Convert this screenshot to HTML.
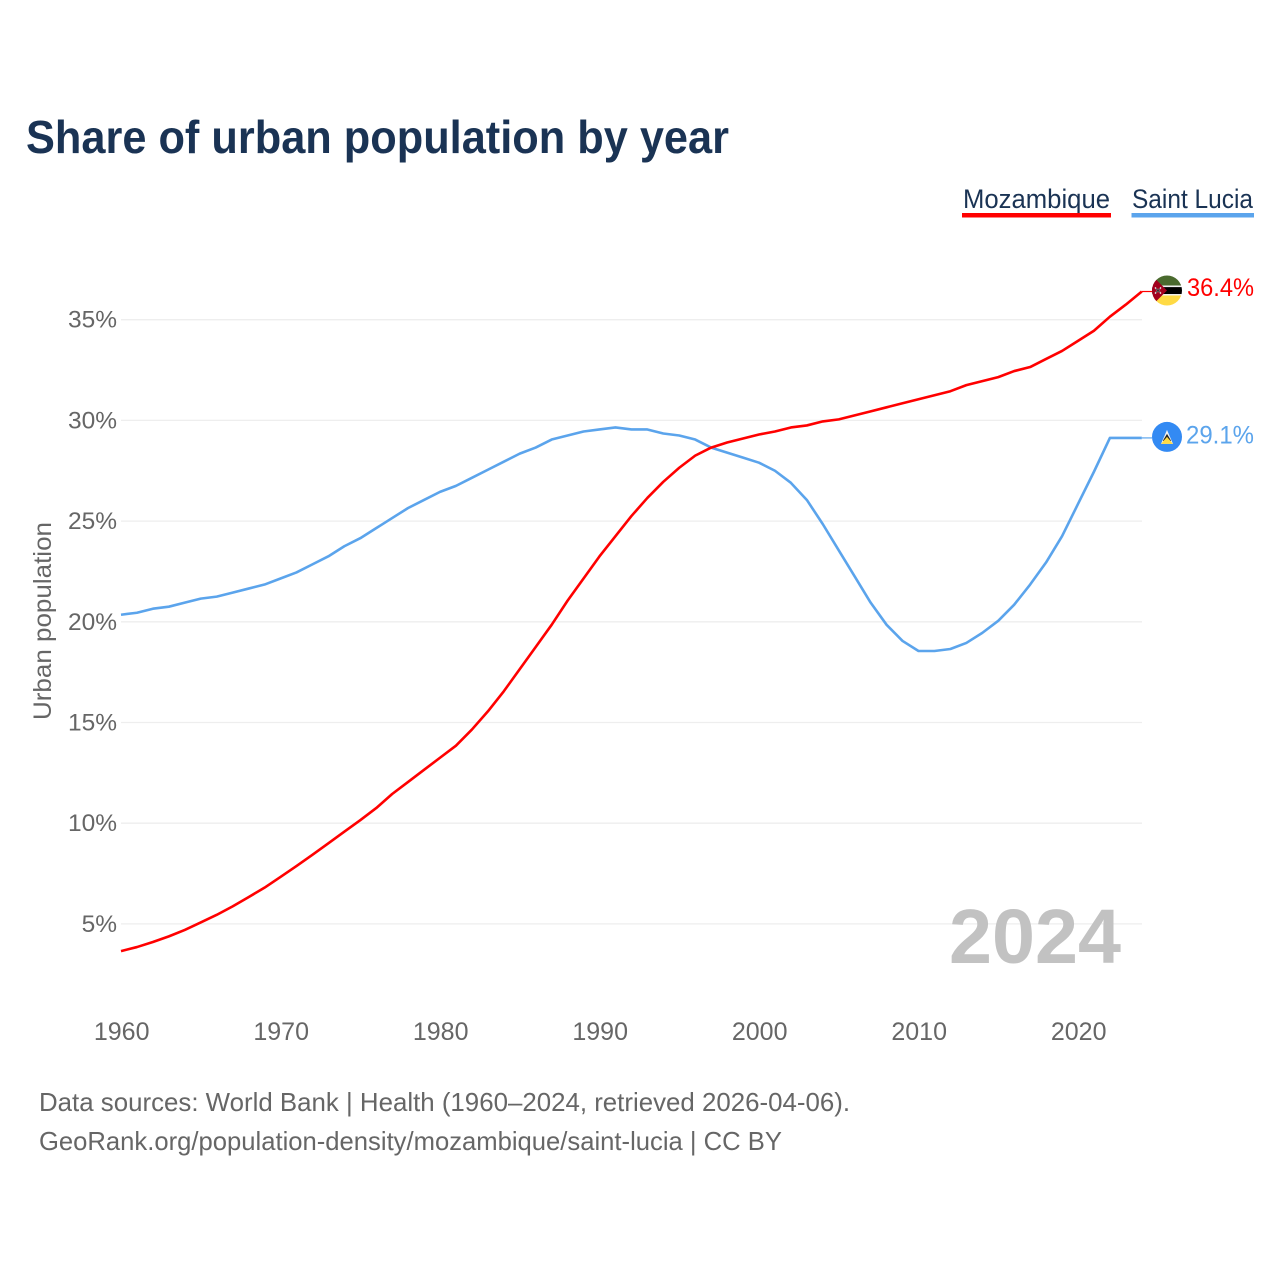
<!DOCTYPE html>
<html lang="en">
<head>
<meta charset="utf-8">
<title>Share of urban population by year</title>
<style>
html,body{margin:0;padding:0;background:#fff;}
svg{display:block;font-family:"Liberation Sans",sans-serif;}
</style>
</head>
<body>
<svg id="chart" width="1280" height="1280" viewBox="0 0 1280 1280" xmlns="http://www.w3.org/2000/svg">
  <defs>
    <clipPath id="flag-clip-mz"><circle cx="0" cy="0" r="15"/></clipPath>
    <clipPath id="flag-clip-lc"><circle cx="0" cy="0" r="15"/></clipPath>
  </defs>
  <rect width="1280" height="1280" fill="#fff"/>
  <text x="26" y="153" font-size="46" font-weight="700" fill="#1a3354" textLength="703" lengthAdjust="spacingAndGlyphs">Share of urban population by year</text>

  <g>
    <text x="963" y="208" font-size="27" fill="#1a3354" textLength="147" lengthAdjust="spacingAndGlyphs">Mozambique</text>
    <rect x="962" y="213" width="149" height="4.5" fill="#ff0000"/>
  </g>
  <g>
    <text x="1132" y="208" font-size="27" fill="#1a3354" textLength="121" lengthAdjust="spacingAndGlyphs">Saint Lucia</text>
    <rect x="1131.5" y="213" width="122.5" height="4.5" fill="#5ba4ec"/>
  </g>

  <text transform="translate(51 621) rotate(-90)" text-anchor="middle" font-size="25" fill="#666" textLength="198" lengthAdjust="spacingAndGlyphs">Urban population</text>

  <g id="grid"></g>
  <g id="yticks"></g>
  <g id="xticks"></g>

  <text x="949" y="963" font-size="77" font-weight="700" fill="#c2c2c2" textLength="172" lengthAdjust="spacingAndGlyphs">2024</text>

  <g id="series"></g>

  <g id="flag-mz">
    <g clip-path="url(#flag-clip-mz)">
      <rect x="-15" y="-15" width="30" height="10" fill="#4a6a2e"/>
      <rect x="-15" y="-5" width="30" height="1.6" fill="#f2f2f2"/>
      <rect x="-15" y="-3.4" width="30" height="7" fill="#000"/>
      <rect x="-15" y="3.6" width="30" height="1.6" fill="#f2f2f2"/>
      <rect x="-15" y="5" width="30" height="10" fill="#ffda44"/>
      <polygon points="-15,-15 0,0 -15,15" fill="#a2001d"/>
      <path d="M-12-3 L-6 3 M-6-3 L-12 3" stroke="#f0f0f0" stroke-width="1.4"/>
      <path d="M-11-2 L-7 2 M-7-2 L-11 2" stroke="#000" stroke-width="0.8"/>
    </g>
  </g>
  <g id="flag-lc">
    <circle cx="0" cy="0" r="15" fill="#338af3"/>
    <polygon points="0,-7 6,7 -6,7" fill="#f3f3f3"/>
    <polygon points="0,-3 4.2,4 -4.2,4" fill="#222"/>
    <polygon points="0,0 6,7 -6,7" fill="#ffda44"/>
  </g>
  <text id="value-mz" x="1187" font-size="25" fill="#ff0000" textLength="67" lengthAdjust="spacingAndGlyphs"></text>
  <text id="value-lc" x="1186" font-size="25" fill="#5ba4ec" textLength="68" lengthAdjust="spacingAndGlyphs"></text>

  <text x="39" y="1111" font-size="26" fill="#666" textLength="811" lengthAdjust="spacingAndGlyphs">Data sources: World Bank | Health (1960–2024, retrieved 2026-04-06).</text>
  <text x="39" y="1150" font-size="26" fill="#666" textLength="743" lengthAdjust="spacingAndGlyphs">GeoRank.org/population-density/mozambique/saint-lucia | CC BY</text>
</svg>
<script>
var years = [1960,1961,1962,1963,1964,1965,1966,1967,1968,1969,1970,1971,1972,1973,1974,1975,1976,1977,1978,1979,1980,1981,1982,1983,1984,1985,1986,1987,1988,1989,1990,1991,1992,1993,1994,1995,1996,1997,1998,1999,2000,2001,2002,2003,2004,2005,2006,2007,2008,2009,2010,2011,2012,2013,2014,2015,2016,2017,2018,2019,2020,2021,2022,2023,2024];
var mozambique = [3.65,3.85,4.1,4.38,4.7,5.07,5.45,5.87,6.33,6.8,7.33,7.87,8.43,9.0,9.58,10.15,10.75,11.45,12.05,12.65,13.25,13.85,14.65,15.55,16.55,17.65,18.75,19.85,21.05,22.15,23.25,24.25,25.25,26.15,26.95,27.65,28.25,28.65,28.9,29.1,29.3,29.45,29.65,29.75,29.95,30.05,30.25,30.45,30.65,30.85,31.05,31.25,31.45,31.75,31.95,32.15,32.45,32.65,33.05,33.45,33.95,34.45,35.15,35.75,36.4];
var saintLucia = [20.35,20.45,20.65,20.75,20.95,21.15,21.25,21.45,21.65,21.85,22.15,22.45,22.85,23.25,23.75,24.15,24.65,25.15,25.65,26.05,26.45,26.75,27.15,27.55,27.95,28.35,28.65,29.05,29.25,29.45,29.55,29.65,29.55,29.55,29.35,29.25,29.05,28.65,28.4,28.15,27.9,27.5,26.9,26.05,24.85,23.55,22.25,20.95,19.85,19.05,18.55,18.55,18.65,18.95,19.45,20.05,20.85,21.85,22.95,24.25,25.85,27.45,29.13,29.13,29.13];
var yTickValues = [5,10,15,20,25,30,35];
var xTickValues = [1960,1970,1980,1990,2000,2010,2020];

var NS = 'http://www.w3.org/2000/svg';
function xScale(year){ return 121 + (year - 1960) * 15.95; }
function yScale(v){ return 1024.6 - v * 20.14; }
function make(tag, parent, attrs){
  var el = document.createElementNS(NS, tag);
  for (var k in attrs) el.setAttribute(k, attrs[k]);
  document.getElementById(parent).appendChild(el);
  return el;
}
yTickValues.forEach(function(v){
  var line = make('line','grid',{x1:121,x2:1142,y1:yScale(v),y2:yScale(v),stroke:'#eeeeee','stroke-width':1.3});
  
  
  var t = make('text','yticks',{x:117,y:yScale(v)+8,'text-anchor':'end','font-size':24.5,fill:'#666'});
  
  
  t.textContent = v + '%';
});
xTickValues.forEach(function(y){
  var t = make('text','xticks',{x:xScale(y)+0.7,y:1040,'text-anchor':'middle','font-size':25,fill:'#666'});
  
  
  t.textContent = y;
});
function pathFor(vals){
  return vals.map(function(v,i){ return (i?'L':'M') + xScale(years[i]).toFixed(2) + ' ' + yScale(v).toFixed(2); }).join(' ');
}
function drawEnd(vals, color, flagId, labelId, labelOffset){
  var last = vals[vals.length-1], ly = yScale(last), lx = xScale(years[years.length-1]);
  var stub = make('line','series',{x1:lx,x2:1152,y1:ly,y2:ly,stroke:color,'stroke-width':1.2});
  
  
  document.getElementById(flagId).setAttribute('transform','translate(1167 '+(ly-1)+')');
  var lab = document.getElementById(labelId);
  lab.setAttribute('y', ly + labelOffset);
  lab.textContent = last.toFixed(1) + '%';
}
var lineLucia = make('path','series',{d:pathFor(saintLucia),fill:'none',stroke:'#5ba4ec','stroke-width':2.6,'stroke-linejoin':'round'});


var lineMoz = make('path','series',{d:pathFor(mozambique),fill:'none',stroke:'#ff0000','stroke-width':2.6,'stroke-linejoin':'round'});


drawEnd(mozambique,'#ff0000','flag-mz','value-mz',4.5);
drawEnd(saintLucia,'#5ba4ec','flag-lc','value-lc',5.5);
</script>
</body>
</html>
